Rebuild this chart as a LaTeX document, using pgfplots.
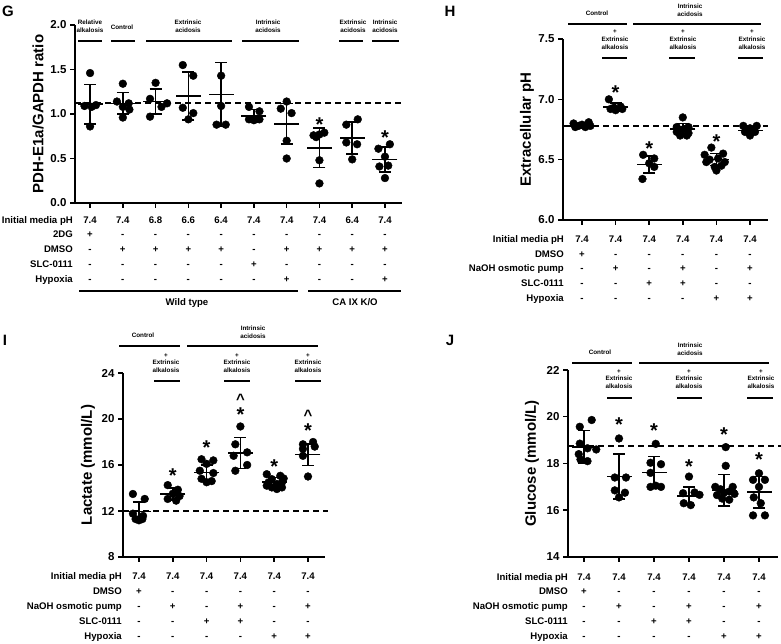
\documentclass[border=0pt]{standalone}
\usepackage{fontspec}
\setmainfont{Liberation Sans}
\usepackage{pgfplots}
\pgfplotsset{compat=1.18}

\pgfplotsset{
  gp/.style={
    scale only axis, clip=false,
    axis x line*=bottom, axis y line*=left,
    axis line style={line width=1.5pt},
    every tick/.style={black, line width=1.5pt},
    major tick length=5pt,
    tick align=outside,
    xticklabels={},
    /pgf/number format/assume math mode=true,
    yticklabel style={font=\fontsize{11.5}{12}\selectfont\bfseries},
    ylabel style={font=\fontsize{15}{16}\selectfont\bfseries, anchor=center},
  },
  pts/.style={only marks, mark=*, mark size=3.9pt, black},
  msd/.style={only marks, mark=-, mark size=12.5pt, mark options={line width=1.6pt, black}, black,
    error bars/.cd, y dir=both, y explicit,
    error bar style={line width=1.6pt, black},
    error mark options={rotate=90, mark size=6pt, line width=1.6pt, black}},
  refl/.style={black, line width=1.8pt, dash pattern=on 6pt off 4pt},
}
\tikzset{
  tbl/.style={font=\fontsize{9.6}{10}\selectfont\bfseries, inner sep=0pt, text height=6.9pt, text depth=0pt},
  tl/.style={font=\fontsize{6.3}{7.8}\selectfont\bfseries, align=center, inner sep=0pt},
  star/.style={font=\fontsize{20}{20}\selectfont\bfseries, anchor=base, yshift=-11.2pt, inner sep=0pt},
  caret/.style={font=\fontsize{15}{15}\selectfont\bfseries, anchor=base, yshift=-7.8pt, inner sep=0pt},
  letter/.style={font=\fontsize{15}{15}\selectfont\bfseries, inner sep=0pt},
}
% x0, dx, y, label x, label, entries (image pixels, y from top)
\newcommand\trow[6]{%
  \node[tbl, anchor=east] at (#4pt,644pt-#3pt) {#5};
  \foreach \v [count=\i from 0] in {#6} {\node[tbl] at (#1pt+\i*#2pt,644pt-#3pt) {\v};}
}
\newcommand\hl[3]{\draw[line width=1.1pt] (#1pt,644pt-#3pt) -- (#2pt,644pt-#3pt);}
\newcommand\tl[3]{\node[tl] at (#1pt,644pt-#2pt) {#3};}

\begin{document}
\begin{tikzpicture}
\useasboundingbox (0,0) rectangle (781pt,644pt);

% ---------------- G ----------------
\begin{axis}[gp, at={(75pt,441pt)}, anchor=south west,
  width=327pt, height=178pt,
  xmin=-0.46, xmax=9.52, ymin=0, ymax=2,
  xtick={0,...,9}, ytick={0,0.5,1,1.5,2},
  yticklabel style={/pgf/number format/.cd, fixed, fixed zerofill, precision=1},
  ylabel={PDH-E1a/GAPDH ratio},
  ylabel style={at={(axis description cs:-0.113,0.5)}}]
\addplot[refl] coordinates {(-0.46,1.12) (9.52,1.12)};
\addplot[pts] coordinates {
  (0,1.46) (-0.17,1.09) (0.05,1.08) (0.18,1.10) (0,0.86)
  (1,1.34) (0.82,1.14) (1.18,1.12) (1,1.08) (1.2,1.05) (1,0.96)
  (2,1.35) (1.83,1.17) (2.18,1.08) (2.35,1.12) (1.83,0.97)
  (2.83,1.55) (3.15,1.43) (2.83,1.07) (3.15,1.01) (3,0.94)
  (4,1.43) (4,1.09) (3.86,0.88) (4.14,0.88)
  (4.85,1.08) (5.17,1.03) (4.85,0.94) (5,0.93) (5.17,0.94)
  (6,1.14) (5.82,1.06) (6.15,1.01) (6,0.70) (6,0.50)
  (6.82,0.76) (7,0.77) (7.15,0.79) (6.9,0.74) (7,0.48) (7,0.22)
  (8.17,0.94) (7.82,0.88) (7.82,0.68) (8.15,0.66) (8,0.49)
  (9.15,0.66) (8.8,0.61) (9,0.52) (8.83,0.41) (9.1,0.42) (9,0.28)
};
\addplot[msd] coordinates {
  (0,1.11) +- (0,0.22)
  (1,1.12) +- (0,0.12)
  (2,1.14) +- (0,0.14)
  (3,1.20) +- (0,0.27)
  (4,1.22) +- (0,0.36)
  (5,0.98) +- (0,0.07)
  (6,0.89) +- (0,0.23)
  (7,0.62) +- (0,0.22)
  (8,0.73) +- (0,0.18)
  (9,0.49) +- (0,0.14)
};
\node[star] at (axis cs:7,0.93) {*};
\node[star] at (axis cs:9,0.78) {*};
\end{axis}

% ---------------- H ----------------
\begin{axis}[gp, at={(563pt,424pt)}, anchor=south west,
  width=205pt, height=181pt,
  xmin=-0.565, xmax=5.536, ymin=6, ymax=7.5,
  xtick={0,...,5}, ytick={6,6.5,7,7.5},
  yticklabel style={/pgf/number format/.cd, fixed, fixed zerofill, precision=1},
  ylabel={Extracellular pH},
  ylabel style={at={(axis description cs:-0.176,0.5)}}]
\addplot[refl] coordinates {(-0.565,6.78) (5.536,6.78)};
\addplot[pts] coordinates {
  (-0.25,6.80) (0.2,6.81) (-0.1,6.78) (0.1,6.77) (0,6.79) (-0.2,6.77) (0.25,6.78)
  (0.8,7.00) (1.15,6.94) (0.85,6.92) (1,6.91) (1.2,6.92) (0.95,6.93)
  (1.82,6.54) (2.15,6.51) (2,6.47) (2.15,6.44) (1.8,6.34)
  (3,6.85) (2.82,6.77) (3.17,6.77) (3,6.75) (2.82,6.73) (3.17,6.72) (2.92,6.70) (3.12,6.70)
  (3.85,6.60) (3.65,6.54) (4.2,6.55) (3.8,6.50) (4.05,6.51) (4.25,6.48) (3.7,6.48) (3.95,6.44) (4,6.41) (4.15,6.45)
  (4.8,6.78) (5.2,6.78) (5,6.76) (4.85,6.73) (5.15,6.73) (5,6.70) (4.9,6.75)
};
\addplot[msd] coordinates {
  (0,6.78) +- (0,0.02)
  (1,6.935) +- (0,0.035)
  (2,6.46) +- (0,0.07)
  (3,6.755) +- (0,0.045)
  (4,6.50) +- (0,0.05)
  (5,6.74) +- (0,0.03)
};
\node[star] at (axis cs:1,7.09) {*};
\node[star] at (axis cs:2,6.63) {*};
\node[star] at (axis cs:4,6.685) {*};
\end{axis}

% ---------------- I ----------------
\begin{axis}[gp, at={(123pt,87pt)}, anchor=south west,
  width=202pt, height=184pt,
  xmin=-0.473, xmax=5.503, ymin=8, ymax=24,
  xtick={0,...,5}, ytick={8,12,16,20,24},
  ylabel={Lactate (mmol/L)},
  ylabel style={at={(axis description cs:-0.173,0.5)}}]
\addplot[refl] coordinates {(-0.473,11.97) (5.6,11.97)};
\addplot[pts] coordinates {
  (-0.18,13.48) (0.17,13.05) (-0.18,11.77) (0.12,11.57) (0,11.19) (-0.1,11.3) (0.1,11.3)
  (0.85,14.25) (1.15,13.85) (1,13.5) (1.2,13.3) (0.85,13.05) (1.1,12.9)
  (1.85,16.5) (2.2,16.4) (2,16.1) (1.8,15.5) (2.2,15.3) (1.85,14.8) (2.15,14.6) (2,14.5)
  (3,19.35) (2.85,17.8) (3.2,17.1) (2.8,16.8) (3.2,16.0) (2.85,15.5)
  (3.78,15.2) (4.18,15.06) (3.93,14.77) (4.28,14.83) (3.83,14.48) (4.08,14.34) (4.23,14.48) (3.93,14.05) (4.08,13.91) (3.78,14.2) (4.23,14.05)
  (4.85,17.8) (5.15,18.0) (5.2,17.6) (4.85,17.4) (4.85,16.8) (5,15.0)
};
\addplot[msd] coordinates {
  (0,11.97) +- (0,0.8)
  (1,13.48) +- (0,0.5)
  (2,15.35) +- (0,0.63)
  (3,17.05) +- (0,1.35)
  (4,14.5) +- (0,0.4)
  (5,16.9) +- (0,0.95)
};
\node[star] at (axis cs:1,15.49) {*};
\node[star] at (axis cs:2,17.92) {*};
\node[star] at (axis cs:3,20.78) {*};
\node[caret] at (axis cs:3,21.95) {\textasciicircum};
\node[star] at (axis cs:4,16.2) {*};
\node[star] at (axis cs:5,19.35) {*};
\node[caret] at (axis cs:5,20.55) {\textasciicircum};
\end{axis}

% ---------------- J ----------------
\begin{axis}[gp, at={(568pt,87pt)}, anchor=south west,
  width=210pt, height=187pt,
  xmin=-0.457, xmax=5.543, ymin=14, ymax=22,
  xtick={0,...,5}, ytick={14,16,18,20,22},
  ylabel={Glucose (mmol/L)},
  ylabel style={at={(axis description cs:-0.171,0.5)}}]
\addplot[refl] coordinates {(-0.457,18.75) (5.63,18.75)};
\addplot[pts] coordinates {
  (-0.12,19.57) (0.22,19.86) (-0.12,18.85) (0.1,18.65) (0.35,18.6) (-0.1,18.17) (0.1,18.1) (-0.15,18.4)
  (1,19.07) (0.88,17.4) (1.2,17.4) (0.88,16.85) (1.17,16.75) (1,16.55)
  (2.05,18.84) (1.9,18.03) (2.2,17.97) (1.9,17.6) (1.9,17.0) (2.2,17.0) (2.05,17.05)
  (3,17.44) (2.83,16.73) (3.16,16.76) (3.3,16.66) (2.85,16.3) (3.05,16.22)
  (4.05,18.7) (4.05,17.9) (3.75,17.0) (4.25,17.0) (3.9,16.9) (4.15,16.8) (3.8,16.65) (4.3,16.7) (3.95,16.5) (4.15,16.45) (4,16.75)
  (5,17.58) (4.83,17.3) (5.17,17.3) (5,17.0) (4.85,16.55) (5.05,16.3) (4.83,15.78) (5.17,15.78)
};
\addplot[msd] coordinates {
  (0,18.71) +- (0,0.7)
  (1,17.44) +- (0,0.97)
  (2,17.62) +- (0,0.68)
  (3,16.6) +- (0,0.4)
  (4,16.85) +- (0,0.68)
  (5,16.77) +- (0,0.67)
};
\node[star] at (axis cs:1,19.83) {*};
\node[star] at (axis cs:2,19.58) {*};
\node[star] at (axis cs:3,18.07) {*};
\node[star] at (axis cs:4,19.42) {*};
\node[star] at (axis cs:5,18.35) {*};
\end{axis}

% ---------------- panel letters ----------------
\node[letter] at (8pt,644pt-11pt) {G};
\node[letter] at (450pt,644pt-11pt) {H};
\node[letter] at (5pt,644pt-340pt) {I};
\node[letter] at (450pt,644pt-340pt) {J};

% ---------------- G annotations ----------------
\tl{90}{26.5}{Relative\\alkalosis}
\tl{122}{27}{Control}
\tl{188}{26.5}{Extrinsic\\acidosis}
\tl{268}{26.5}{Intrinsic\\acidosis}
\tl{353}{26.5}{Extrinsic\\acidosis}
\tl{385}{26.5}{Intrinsic\\acidosis}
\hl{78}{102}{41} \hl{111}{135}{41} \hl{146}{232}{41}
\hl{242}{299}{41} \hl{339}{363}{41} \hl{372}{399}{41}
\trow{90}{32.78}{220}{73}{Initial media pH}{7.4,7.4,6.8,6.6,6.4,7.4,7.4,7.4,6.4,7.4}
\trow{90}{32.78}{234.5}{73}{2DG}{+,-,-,-,-,-,-,-,-,-}
\trow{90}{32.78}{249}{73}{DMSO}{-,+,+,+,+,-,+,+,+,+}
\trow{90}{32.78}{264}{73}{SLC-0111}{-,-,-,-,-,+,-,-,-,-}
\trow{90}{32.78}{279}{73}{Hypoxia}{-,-,-,-,-,-,+,-,-,+}
\draw[line width=1.4pt] (79pt,644pt-291pt) -- (298pt,644pt-291pt);
\draw[line width=1.4pt] (308pt,644pt-291pt) -- (401pt,644pt-291pt);
\node[tbl] at (187pt,644pt-302pt) {Wild type};
\node[tbl] at (355pt,644pt-302pt) {CA IX K/O};

% ---------------- H annotations ----------------
\tl{597}{13}{Control}
\tl{690}{10.5}{Intrinsic\\acidosis}
\hl{568}{627}{24} \hl{633}{761}{24}
\tl{615}{39.5}{+\\Extrinsic\\alkalosis}
\tl{683}{39.5}{+\\Extrinsic\\alkalosis}
\tl{752}{39.5}{+\\Extrinsic\\alkalosis}
\hl{602}{627}{58} \hl{669}{695}{58} \hl{738}{763}{58}
\trow{582}{33.6}{239}{564}{Initial media pH}{7.4,7.4,7.4,7.4,7.4,7.4}
\trow{582}{33.6}{254}{564}{DMSO}{+,-,-,-,-,-}
\trow{582}{33.6}{268.5}{564}{NaOH osmotic pump}{-,+,-,+,-,+}
\trow{582}{33.6}{283}{564}{SLC-0111}{-,-,+,+,-,-}
\trow{582}{33.6}{298.5}{564}{Hypoxia}{-,-,-,-,+,+}

% ---------------- I annotations ----------------
\tl{143}{335}{Control}
\tl{253}{332}{Intrinsic\\acidosis}
\hl{119}{180}{346} \hl{187}{318}{346}
\tl{166}{363}{+\\Extrinsic\\alkalosis}
\tl{237}{363}{+\\Extrinsic\\alkalosis}
\tl{308}{363}{+\\Extrinsic\\alkalosis}
\hl{154}{180}{381} \hl{224}{250}{381} \hl{295}{321}{381}
\trow{139}{33.8}{576}{122}{Initial media pH}{7.4,7.4,7.4,7.4,7.4,7.4}
\trow{139}{33.8}{591}{122}{DMSO}{+,-,-,-,-,-}
\trow{139}{33.8}{605.7}{122}{NaOH osmotic pump}{-,+,-,+,-,+}
\trow{139}{33.8}{621}{122}{SLC-0111}{-,-,+,+,-,-}
\trow{139}{33.8}{636.5}{122}{Hypoxia}{-,-,-,-,+,+}

% ---------------- J annotations ----------------
\tl{600}{352}{Control}
\tl{690}{349.5}{Intrinsic\\acidosis}
\hl{572}{632}{363} \hl{639}{769}{363}
\tl{619}{379}{+\\Extrinsic\\alkalosis}
\tl{689}{379}{+\\Extrinsic\\alkalosis}
\tl{761}{379}{+\\Extrinsic\\alkalosis}
\hl{607}{632}{398} \hl{677}{702}{398} \hl{747}{773}{398}
\trow{584}{35}{576.7}{568}{Initial media pH}{7.4,7.4,7.4,7.4,7.4,7.4}
\trow{584}{35}{591}{568}{DMSO}{+,-,-,-,-,-}
\trow{584}{35}{605.7}{568}{NaOH osmotic pump}{-,+,-,+,-,+}
\trow{584}{35}{621.5}{568}{SLC-0111}{-,-,+,+,-,-}
\trow{584}{35}{636.5}{568}{Hypoxia}{-,-,-,-,+,+}
\end{tikzpicture}
\end{document}
